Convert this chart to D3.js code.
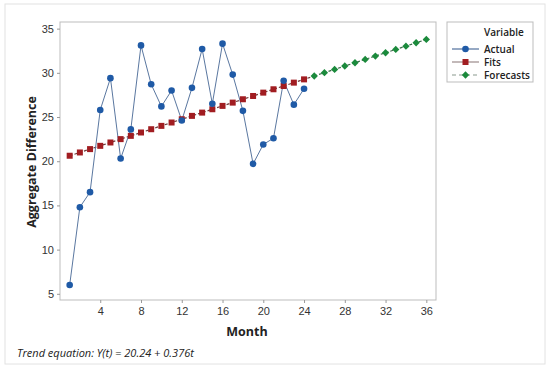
<!DOCTYPE html>
<html>
<head>
<meta charset="utf-8">
<script src="https://cdn.jsdelivr.net/npm/d3@7"></script>
<style>
  body { margin: 0; background: #fff; }
  svg { font-family: "Open Sans", "Noto Sans", sans-serif; }
</style>
</head>
<body>
<script>
// months and values
var months = d3.range(1, 25);
var forecastMonths = d3.range(25, 37);
var actual = [6.0, 14.8, 16.5, 25.8, 29.4, 20.3, 23.6, 33.1, 28.7, 26.2, 28.0, 24.6,
              28.3, 32.7, 26.5, 33.3, 29.8, 25.7, 19.7, 21.9, 22.6, 29.1, 26.4, 28.2];
var fits = [20.62, 20.99, 21.37, 21.74, 22.12, 22.50, 22.87, 23.25, 23.62, 24.00, 24.38, 24.75,
            25.13, 25.50, 25.88, 26.26, 26.63, 27.01, 27.38, 27.76, 28.14, 28.51, 28.89, 29.26];
var forecasts = [29.64, 30.02, 30.39, 30.77, 31.14, 31.52, 31.90, 32.27, 32.65, 33.02, 33.40, 33.78];
var xTicks = [4, 8, 12, 16, 20, 24, 28, 32, 36];
var yTicks = [5, 10, 15, 20, 25, 30, 35];
var legendNames = ["Actual", "Fits", "Forecasts"];

var W = 550, H = 370;
var margin = {top: 22, left: 60, right: 114, bottom: 70};
var width = W - margin.left - margin.right,
    height = H - margin.top - margin.bottom;

var blue = "#1f5aa6", red = "#a11d21", green = "#1b8a3c";

var svg = d3.select("body").append("svg")
    .attr("width", W).attr("height", H);

// outer frame
svg.append("rect")
    .attr("x", 5).attr("y", 4).attr("width", 540).attr("height", 360)
    .attr("fill", "#fff").attr("stroke", "#e2e2e2");

var x = d3.scaleLinear().domain([0.05, 36.95]).range([0, width]);
var y = d3.scaleLinear().domain([4.3, 35.75]).range([height, 0]);

var g = svg.append("g")
    .attr("transform", "translate(" + margin.left + "," + margin.top + ")");

g.append("rect")
    .attr("width", width).attr("height", height)
    .attr("fill", "#fff").attr("stroke", "#bdbdbd");

var xAxis = g.append("g")
    .attr("transform", "translate(0," + height + ")")
    .call(d3.axisBottom(x).tickValues(xTicks).tickSize(3).tickPadding(4));
var yAxis = g.append("g")
    .call(d3.axisLeft(y).tickValues(yTicks).tickSize(3).tickPadding(3));
[xAxis, yAxis].forEach(function(a) {
    a.select(".domain").remove();
    a.selectAll("line").attr("stroke", "#999");
    a.selectAll("text").attr("fill", "#333").style("font-size", "11px");
});

var line = d3.line()
    .x(function(d) { return x(d[0]); })
    .y(function(d) { return y(d[1]); });

var actualPts = months.map(function(m, i) { return [m, actual[i]]; });
var fitPts = months.map(function(m, i) { return [m, fits[i]]; });
var fcPts = forecastMonths.map(function(m, i) { return [m, forecasts[i]]; });

// lines
g.append("path").datum(fitPts.concat(fcPts.slice(0, 1)))
    .attr("d", line).attr("fill", "none")
    .attr("stroke", "#6d3a3a").attr("stroke-width", 1.2).attr("stroke-dasharray", "3,2");
g.append("path").datum(fcPts)
    .attr("d", line).attr("fill", "none")
    .attr("stroke", "#3d6b4a").attr("stroke-width", 1.2).attr("stroke-dasharray", "3,2");
g.append("path").datum(actualPts)
    .attr("d", line).attr("fill", "none")
    .attr("stroke", "#5a77a0").attr("stroke-width", 1);

// markers
g.selectAll(".fit").data(fitPts).enter().append("rect")
    .attr("class", "fit")
    .attr("x", function(d) { return x(d[0]) - 3; })
    .attr("y", function(d) { return y(d[1]) - 3; })
    .attr("width", 6).attr("height", 6)
    .attr("fill", red);

var diamond = d3.symbol().type(d3.symbolDiamond2).size(34);
g.selectAll(".fc").data(fcPts).enter().append("path")
    .attr("class", "fc")
    .attr("transform", function(d) { return "translate(" + x(d[0]) + "," + y(d[1]) + ")"; })
    .attr("d", diamond)
    .attr("fill", green);

g.selectAll(".act").data(actualPts).enter().append("circle")
    .attr("class", "act")
    .attr("cx", function(d) { return x(d[0]); })
    .attr("cy", function(d) { return y(d[1]); })
    .attr("r", 3.3)
    .attr("fill", blue);

// axis titles
svg.append("text")
    .attr("x", 247).attr("y", 336)
    .attr("text-anchor", "middle")
    .style("font-size", "12.5px").style("font-weight", "bold").attr("fill", "#222")
    .text("Month");
svg.append("text")
    .attr("transform", "translate(36,162) rotate(-90)")
    .attr("text-anchor", "middle")
    .style("font-size", "12.5px").style("font-weight", "bold").attr("fill", "#222")
    .text("Aggregate Difference");

svg.append("text")
    .attr("x", 17).attr("y", 357)
    .style("font-size", "11px").style("font-style", "italic").attr("fill", "#222")
    .text("Trend equation: Y(t) = 20.24 + 0.376t");

// legend
var lg = svg.append("g").attr("transform", "translate(447,22)");
lg.append("rect").attr("width", 86).attr("height", 60)
    .attr("fill", "#fff").attr("stroke", "#bdbdbd");
lg.append("text").attr("x", 37).attr("y", 14)
    .style("font-size", "10px").style("font-weight", "600").attr("fill", "#222")
    .text("Variable");
var styles = [
    {stroke: "#4f6f9c", dash: null, color: blue},
    {stroke: "#9a8a8a", dash: null, color: red},
    {stroke: "#8a9a8e", dash: "4,3", color: green}
];
legendNames.forEach(function(name, i) {
    var yy = 27 + i * 13;
    var s = styles[i];
    lg.append("line").attr("x1", 5).attr("x2", 32).attr("y1", yy).attr("y2", yy)
        .attr("stroke", s.stroke).attr("stroke-width", 1.2)
        .attr("stroke-dasharray", s.dash);
    if (i == 0) {
        lg.append("circle").attr("cx", 18.5).attr("cy", yy).attr("r", 3.3).attr("fill", s.color);
    } else if (i == 1) {
        lg.append("rect").attr("x", 15.5).attr("y", yy - 3).attr("width", 6).attr("height", 6).attr("fill", s.color);
    } else {
        lg.append("path").attr("transform", "translate(18.5," + yy + ")").attr("d", diamond).attr("fill", s.color);
    }
    lg.append("text").attr("x", 37).attr("y", yy + 3.5)
        .style("font-size", "10px").style("font-weight", "600").attr("fill", "#222")
        .text(name);
});
</script>
</body>
</html>
